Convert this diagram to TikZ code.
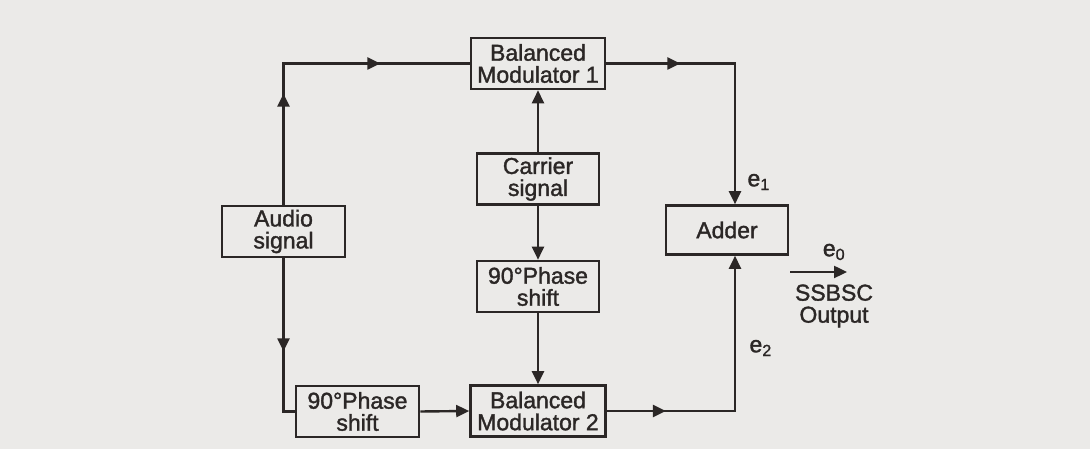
\documentclass[tikz,border=0pt]{standalone}
\usepackage{fontspec}
\setmainfont{Liberation Sans}
\newfontfamily\diagfont{Liberation Sans}[FakeBold=1.5]
\usepackage{xcolor}
\usepackage{tikz}
\usetikzlibrary{positioning, arrows.meta, calc, decorations.markings}
\definecolor{paper}{HTML}{EBEAE8}
\definecolor{ink}{HTML}{2B2726}

\tikzset{
  blk/.style={draw=ink, line width=2.6pt, align=center, inner sep=0pt,
              minimum height=51pt, text=ink, font=\diagfont\fontsize{23}{22}\selectfont},
  wire/.style={draw=ink, color=ink, line width=2.4pt},
  endarrow/.style={-{Triangle[length=13pt, width=12pt]}},
  arrowat/.style={postaction={decorate, decoration={markings,
      mark=at position #1 with {\arrow{Triangle[length=13pt, width=12pt]}}}}},
  lbl/.style={text=ink, font=\diagfont\fontsize{23}{22}\selectfont},
}

\begin{document}
\begin{tikzpicture}[x=1pt, y=1pt]
  \fill[paper] (0,0) rectangle (1090,449);
  \useasboundingbox (0,0) rectangle (1090,449);

  % blocks
  \node[blk, minimum width=134pt] (bm1) at (538,385.5) {Balanced\\Modulator 1};
  \node[blk, minimum width=122pt] (carrier) at (538,270) {Carrier\\signal};
  \node[blk, minimum width=123pt] (audio) at (283.5,217.5) {Audio\\signal};
  \node[blk, minimum width=122pt, minimum height=49pt] (adder) at (727,219) {Adder};
  \node[blk, minimum width=122pt] (phaseR) at (538,162.5) {90°Phase\\shift};
  \node[blk, minimum width=135pt] (bm2) at (538,38) {Balanced\\Modulator 2};
  \node[blk, minimum width=123pt] (phaseL) at (357.5,37.5) {90°Phase\\shift};

  \coordinate (col) at (735,0);
  \coordinate (outS) at (790,177);
  \coordinate (outE) at (847,177);

  % connectors
  \draw[wire, arrowat=111pt, arrowat=238pt] (audio.north) |- (bm1.west);
  \draw[wire, arrowat=93pt] (audio.south) |- (phaseL.west);
  \draw[wire, endarrow] (phaseL.east) -- (bm2.west);
  \draw[wire, endarrow] (carrier.north) -- (bm1.south);
  \draw[wire, endarrow] (carrier.south) -- (phaseR.north);
  \draw[wire, endarrow] (phaseR.south) -- (bm2.north);
  \draw[wire, endarrow, arrowat=74pt] (bm1.east) -- (bm1.east -| col) -- (col |- adder.north);
  \draw[wire, endarrow, arrowat=59pt] (bm2.east) -- (bm2.east -| col) -- (col |- adder.south);
  \draw[wire, endarrow] (outS) -- (outE);

  % labels
  \node[lbl, anchor=west] (e1) at (744,267) {e\textsubscript{1}};
  \node[lbl, anchor=west] (e2) at (746,101) {e\textsubscript{2}};
  \node[lbl] (e0) at (834,197) {e\textsubscript{0}};
  \node[lbl, align=center] (out) at (834,143) {SSBSC\\Output};
\end{tikzpicture}
\end{document}
